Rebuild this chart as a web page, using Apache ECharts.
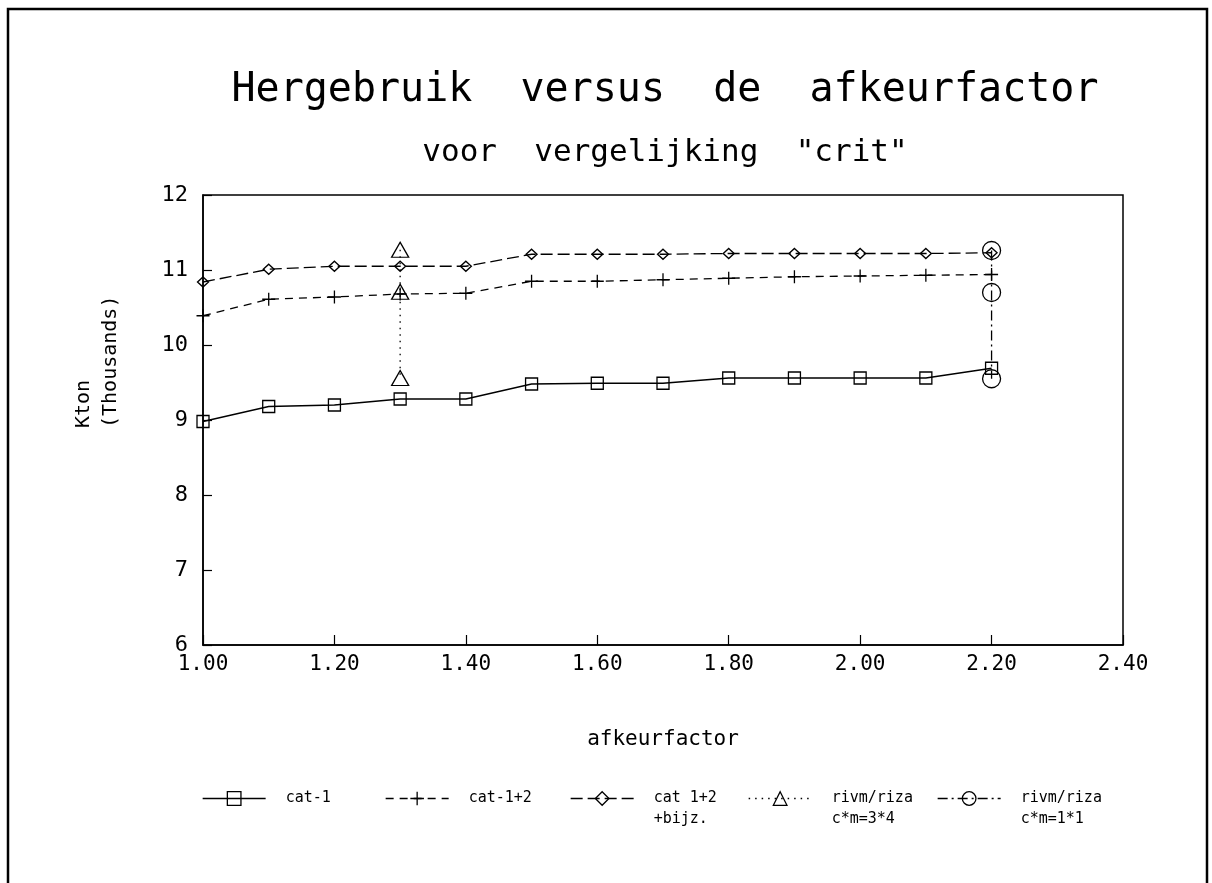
<!DOCTYPE html>
<html>
<head>
<meta charset="utf-8">
<script src="https://cdn.jsdelivr.net/npm/echarts@6/dist/echarts.min.js"></script>
<style>
  html, body { margin: 0; padding: 0; background: #fff; }
  #chart { width: 1212px; height: 883px; }
</style>
</head>
<body>
<div id="chart"></div>
<script>
// ---- data ----
const titleLine1 = 'Hergebruik  versus  de  afkeurfactor';
const titleLine2 = 'voor  vergelijking  "crit"';
const xAxisName = 'afkeurfactor';
const yAxisName1 = 'Kton';
const yAxisName2 = '(Thousands)';

const afkeurfactor = [1.00, 1.10, 1.20, 1.30, 1.40, 1.50, 1.60, 1.70, 1.80, 1.90, 2.00, 2.10, 2.20];
const cat1      = [8.98, 9.18, 9.20, 9.28, 9.28, 9.48, 9.49, 9.49, 9.56, 9.56, 9.56, 9.56, 9.69];
const cat12     = [10.39, 10.61, 10.64, 10.68, 10.69, 10.85, 10.85, 10.87, 10.89, 10.91, 10.92, 10.93, 10.94];
const cat12bijz = [10.84, 11.01, 11.05, 11.05, 11.05, 11.21, 11.21, 11.21, 11.22, 11.22, 11.22, 11.22, 11.23];
const rivm34X = 1.30;
const rivm34  = [11.27, 10.71, 9.56];
const rivm11X = 2.20;
const rivm11  = [11.26, 10.70, 9.55];

const seriesNames = ['cat-1', 'cat-1+2', 'cat 1+2\n+bijz.', 'rivm/riza\nc*m=3*4', 'rivm/riza\nc*m=1*1'];

const xMin = 1.0, xMax = 2.4, xStep = 0.2;
const yMin = 6, yMax = 12, yStep = 1;

// ---- styling ----
const INK = '#000';
const MONO = '"DejaVu Sans Mono", monospace';
const SYM = {
  square:   'path://M0,0L10,0L10,10L0,10Z',
  plus:     'path://M0,5L10,5M5,0L5,10',
  diamond:  'path://M5,0L10,5L5,10L0,5Z',
  triangle: 'path://M5,0L10,10L0,10Z',
  circle:   'path://M10,5A5,5,0,1,1,0,5A5,5,0,1,1,10,5Z'
};

function mkSeries(name, data, symbol, size, dash) {
  return {
    name: name,
    type: 'line',
    data: data,
    symbol: symbol,
    symbolSize: size,
    showSymbol: true,
    animation: false,
    itemStyle: { color: 'rgba(0,0,0,0)', borderColor: INK, borderWidth: 1.3 },
    lineStyle: { color: INK, width: 1.3, type: dash },
    emphasis: { disabled: true }
  };
}

const series = [
  mkSeries(seriesNames[0], afkeurfactor.map((x, i) => [x, cat1[i]]), SYM.square, 12, 'solid'),
  mkSeries(seriesNames[1], afkeurfactor.map((x, i) => [x, cat12[i]]), SYM.plus, 13, [8, 6]),
  mkSeries(seriesNames[2], afkeurfactor.map((x, i) => [x, cat12bijz[i]]), SYM.diamond, [11, 10], [12, 5]),
  mkSeries(seriesNames[3], rivm34.map(v => [rivm34X, v]), SYM.triangle, [17, 15], [1.5, 5]),
  mkSeries(seriesNames[4], rivm11.map(v => [rivm11X, v]), SYM.circle, 18, [10, 4, 2, 4])
];

// every legend label becomes three lines (blank, line 1, line 2) so that
// the first real line sits level with the legend symbol
const legendLefts = [202, 385, 570, 748, 937];
const legends = seriesNames.map((n, i) => ({
  data: [n],
  left: legendLefts[i],
  top: 767,
  padding: 0,
  itemWidth: 63,
  itemHeight: 17,
  selectedMode: false,
  formatter: nm => ' \n' + (nm.indexOf('\n') >= 0 ? nm : nm + '\n '),
  textStyle: { fontFamily: MONO, fontSize: 15, color: INK, lineHeight: 21, padding: [0, 0, 0, 15] },
  lineStyle: { width: 'inherit' },
  itemStyle: { borderWidth: 'inherit' }
}));

const chart = echarts.init(document.getElementById('chart'), null, { renderer: 'canvas' });
chart.setOption({
  backgroundColor: '#fff',
  animation: false,
  title: [
    { text: titleLine1, left: 665, top: 71, padding: 0, textAlign: 'center',
      textStyle: { fontFamily: MONO, fontSize: 40, fontWeight: 'normal', color: INK } },
    { text: titleLine2, left: 665, top: 137, padding: 0, textAlign: 'center',
      textStyle: { fontFamily: MONO, fontSize: 31, fontWeight: 'normal', color: INK } }
  ],
  legend: legends,
  grid: { left: 203, right: 89, top: 195, bottom: 238, show: true, borderColor: INK, borderWidth: 1.5, backgroundColor: 'transparent' },
  xAxis: {
    type: 'value', min: xMin, max: xMax, interval: xStep,
    name: xAxisName, nameLocation: 'middle', nameGap: 84,
    nameTextStyle: { fontFamily: MONO, fontSize: 21, color: INK },
    axisLine: { show: true, lineStyle: { color: INK, width: 1.5 } },
    axisTick: { show: true, inside: true, length: 10, lineStyle: { color: INK, width: 1.2 } },
    axisLabel: { margin: 9, fontFamily: MONO, fontSize: 21, color: INK, formatter: v => v.toFixed(2) },
    splitLine: { show: false }
  },
  yAxis: {
    type: 'value', min: yMin, max: yMax, interval: yStep,
    axisLine: { show: true, lineStyle: { color: INK, width: 1.5 } },
    axisTick: { show: true, inside: true, length: 9, lineStyle: { color: INK, width: 1.2 } },
    axisLabel: { margin: 15, fontFamily: MONO, fontSize: 22, color: INK },
    splitLine: { show: false }
  },
  graphic: [
    { type: 'rect', silent: true, z: -10,
      shape: { x: 8, y: 9, width: 1199, height: 900 },
      style: { fill: 'none', stroke: INK, lineWidth: 2.5 } },
    { type: 'text', x: 84, y: 428, rotation: Math.PI / 2, silent: true,
      style: { text: yAxisName1, font: '20px ' + MONO, fill: INK, align: 'left', verticalAlign: 'middle', textAlign: 'left', textVerticalAlign: 'middle' } },
    { type: 'text', x: 111, y: 428, rotation: Math.PI / 2, silent: true,
      style: { text: yAxisName2, font: '20px ' + MONO, fill: INK, align: 'left', verticalAlign: 'middle', textAlign: 'left', textVerticalAlign: 'middle' } }
  ],
  series: series
});
</script>
</body>
</html>
